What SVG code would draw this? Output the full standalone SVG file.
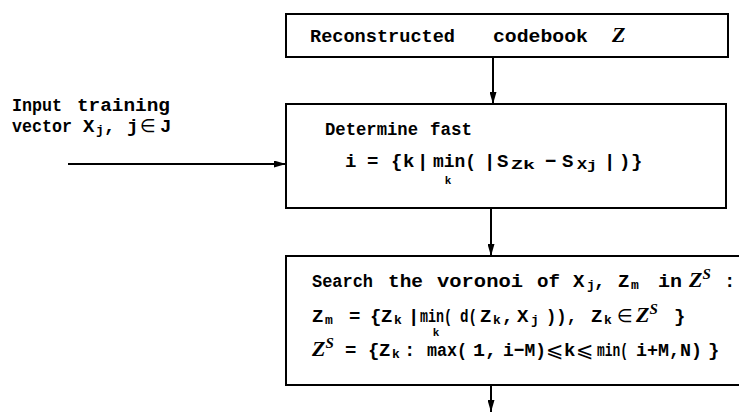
<svg xmlns="http://www.w3.org/2000/svg" width="739" height="418" viewBox="0 0 739 418">
  <style>
    .box { fill: #fff; stroke: #000; stroke-width: 2; }
    .wire { fill: none; stroke: #000; stroke-width: 2; }
    .t { font-family: "Liberation Mono", "DejaVu Sans Mono", monospace; font-weight: bold; font-size: 19px; fill: #000; }
    .m { font-family: "DejaVu Sans", "Noto Sans", sans-serif; font-size: 18px; fill: #000; }
    .le { font-family: "DejaVu Sans", "Noto Sans", sans-serif; font-size: 21px; fill: #000; }
    .z { font-family: "Liberation Serif", "DejaVu Serif", serif; font-style: italic; font-weight: bold; font-size: 22px; fill: #000; }
    .sub { font-family: "Liberation Mono", "DejaVu Sans Mono", monospace; font-weight: bold; font-size: 13px; fill: #000; }
    .under { font-family: "Liberation Mono", "DejaVu Sans Mono", monospace; font-weight: bold; font-size: 11px; fill: #000; }
    .sup { font-family: "Liberation Serif", "DejaVu Serif", serif; font-style: italic; font-weight: bold; font-size: 15px; fill: #000; }
  </style>
  <defs>
    <marker id="arrow" markerUnits="userSpaceOnUse" markerWidth="12" markerHeight="7" refX="12" refY="3.5" orient="auto">
      <path d="M0,0 L12,3.5 L0,7 z" fill="#000"/>
    </marker>
  </defs>

  <g id="connectors">
    <line class="wire" x1="493" y1="57" x2="493" y2="104" marker-end="url(#arrow)"/>
    <line class="wire" x1="491" y1="208" x2="491" y2="256" marker-end="url(#arrow)"/>
    <line class="wire" x1="491" y1="385" x2="491" y2="412" marker-end="url(#arrow)"/>
    <line class="wire" x1="68" y1="164" x2="286" y2="164" marker-end="url(#arrow)"/>
  </g>

  <g id="input-label">
    <text class="t" y="111"><tspan x="12" textLength="50" lengthAdjust="spacingAndGlyphs">Input</tspan><tspan x="77" textLength="93" lengthAdjust="spacingAndGlyphs">training</tspan></text>
    <text class="t" y="132"><tspan x="12" textLength="60" lengthAdjust="spacingAndGlyphs">vector</tspan><tspan x="83">X</tspan><tspan class="sub" x="96" dy="2">j</tspan><tspan x="104" dy="-2">,</tspan><tspan x="127">j</tspan></text>
    <text class="m" x="140" y="132">∈</text>
    <text class="t" x="160" y="132">J</text>
  </g>

  <g id="codebook">
    <rect class="box" x="286" y="14" width="442" height="43"/>
    <text class="t" x="310" y="42" textLength="145" lengthAdjust="spacingAndGlyphs">Reconstructed</text>
    <text class="t" x="493" y="42" textLength="95" lengthAdjust="spacingAndGlyphs">codebook</text>
    <text class="z" x="612" y="42">Z</text>
  </g>

  <g id="determine-fast">
    <rect class="box" x="286" y="104" width="440" height="104"/>
    <text class="t" y="135"><tspan x="325" textLength="93" lengthAdjust="spacingAndGlyphs">Determine</tspan><tspan x="430" textLength="42" lengthAdjust="spacingAndGlyphs">fast</tspan></text>
    <text class="t" y="167"><tspan x="345">i</tspan><tspan x="367">=</tspan><tspan x="391">{</tspan><tspan x="403">k</tspan><tspan x="417">|</tspan><tspan x="433" textLength="43" lengthAdjust="spacingAndGlyphs">min(</tspan><tspan x="484">|</tspan><tspan x="497">S</tspan><tspan class="sub" x="511" dy="2" textLength="24" lengthAdjust="spacingAndGlyphs">Zk</tspan><tspan x="545" dy="-2">−</tspan><tspan x="562">S</tspan><tspan class="sub" x="577" dy="2" textLength="20" lengthAdjust="spacingAndGlyphs">Xj</tspan><tspan x="604" dy="-2">|</tspan><tspan x="619">)</tspan><tspan x="631">}</tspan></text>
    <text class="under" x="448" y="184" text-anchor="middle">k</text>
  </g>

  <g id="voronoi-search">
    <rect class="box" x="286" y="256" width="462" height="129"/>
    <!-- line 1 -->
    <text class="t" y="287"><tspan x="312" textLength="61" lengthAdjust="spacingAndGlyphs">Search</tspan><tspan x="388" textLength="35" lengthAdjust="spacingAndGlyphs">the</tspan><tspan x="437" textLength="86" lengthAdjust="spacingAndGlyphs">voronoi</tspan><tspan x="537" textLength="23" lengthAdjust="spacingAndGlyphs">of</tspan><tspan x="573">X</tspan><tspan class="sub" x="587" dy="2">j</tspan><tspan x="594" dy="-2">,</tspan><tspan x="618">Z</tspan><tspan class="sub" x="631" dy="2">m</tspan><tspan x="658" dy="-2" textLength="24" lengthAdjust="spacingAndGlyphs">in</tspan><tspan x="724">:</tspan></text>
    <text class="z" x="689" y="287">Z<tspan class="sup" dy="-8">S</tspan></text>

    <!-- line 2 -->
    <text class="t" y="322"><tspan x="312">Z</tspan><tspan class="sub" x="325" dy="2">m</tspan><tspan x="349" dy="-2">=</tspan><tspan x="370">{</tspan><tspan x="381">Z</tspan><tspan class="sub" x="394" dy="2">k</tspan><tspan x="408" dy="-2">|</tspan><tspan x="420" textLength="32" lengthAdjust="spacingAndGlyphs">min(</tspan><tspan x="460" textLength="17" lengthAdjust="spacingAndGlyphs">d(</tspan><tspan x="480">Z</tspan><tspan class="sub" x="493" dy="2">k</tspan><tspan x="502" dy="-2">,</tspan><tspan x="517">X</tspan><tspan class="sub" x="531" dy="2">j</tspan><tspan x="546" dy="-2" textLength="31" lengthAdjust="spacingAndGlyphs">)),</tspan><tspan x="591">Z</tspan><tspan class="sub" x="604" dy="2">k</tspan><tspan x="674" dy="-2">}</tspan></text>
    <text class="m" x="617" y="322">∈</text>
    <text class="z" x="636" y="322">Z<tspan class="sup" dy="-8">S</tspan></text>
    <text class="under" x="436" y="336" text-anchor="middle">k</text>

    <!-- line 3 -->
    <text class="z" x="312" y="356">Z<tspan class="sup" dy="-8">S</tspan></text>
    <text class="t" y="356"><tspan x="345">=</tspan><tspan x="368">{</tspan><tspan x="379">Z</tspan><tspan class="sub" x="392" dy="2">k</tspan><tspan x="404" dy="-2">:</tspan><tspan x="427" textLength="40" lengthAdjust="spacingAndGlyphs">max(</tspan><tspan x="473" textLength="24" lengthAdjust="spacingAndGlyphs">1,</tspan><tspan x="503" textLength="43" lengthAdjust="spacingAndGlyphs">i−M)</tspan><tspan x="564">k</tspan><tspan x="597" textLength="31" lengthAdjust="spacingAndGlyphs">min(</tspan><tspan x="636" textLength="66" lengthAdjust="spacingAndGlyphs">i+M,N)</tspan><tspan x="708">}</tspan></text>
    <text class="le" y="357"><tspan x="546">⩽</tspan><tspan x="576">⩽</tspan></text>
  </g>
</svg>
